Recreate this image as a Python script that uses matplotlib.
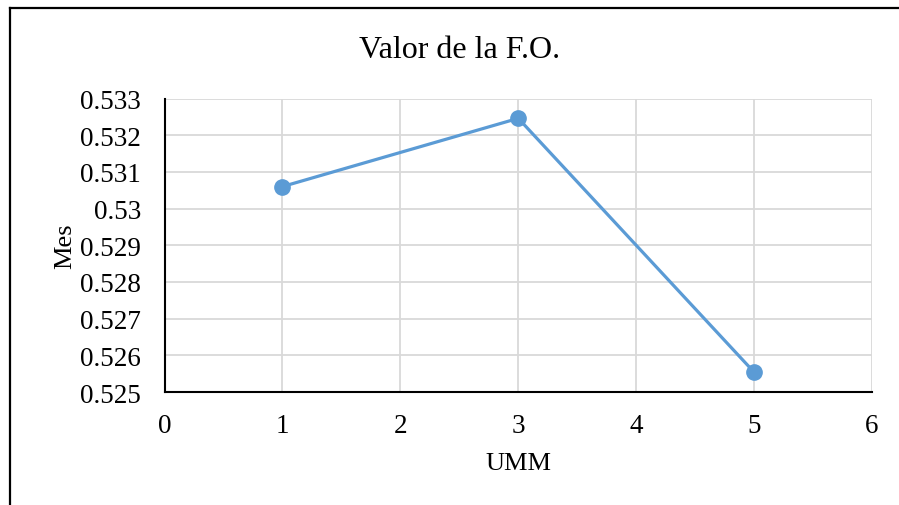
import matplotlib.pyplot as plt
from matplotlib.lines import Line2D
from matplotlib.ticker import FuncFormatter

# Datos
umm = [1, 3, 5]
valor_fo = [0.53060, 0.53246, 0.52554]
x_ticks = [0, 1, 2, 3, 4, 5, 6]
y_ticks = [0.525, 0.526, 0.527, 0.528, 0.529, 0.530, 0.531, 0.532, 0.533]

plt.rcParams['font.family'] = ['Liberation Serif', 'DejaVu Serif']

fig = plt.figure(figsize=(8.99, 5.06), dpi=100)
ax = fig.add_axes([0.183, 0.2233, 0.787, 0.580])

ax.plot(umm, valor_fo, color='#5b9bd5', linewidth=2.3, marker='o',
        markersize=11, markerfacecolor='#5b9bd5', markeredgecolor='#5b9bd5',
        zorder=3, clip_on=False)

ax.set_xlim(0, 6)
ax.set_ylim(0.525, 0.533)
ax.set_xticks(x_ticks)
ax.set_yticks(y_ticks)
ax.yaxis.set_major_formatter(FuncFormatter(lambda v, p: f"{v:.3f}".rstrip('0')))

# Cuadrícula gris y ejes
ax.grid(True, color='#d9d9d9', linewidth=1.3)
ax.set_axisbelow(True)
for s in ['top', 'right']:
    ax.spines[s].set_visible(False)
for s in ['left', 'bottom']:
    ax.spines[s].set_color('black')
    ax.spines[s].set_linewidth(1.5)
    ax.spines[s].set_zorder(4)
ax.tick_params(axis='both', length=0, labelsize=19.5)
ax.tick_params(axis='y', pad=17)
ax.tick_params(axis='x', pad=15)

ax.set_xlabel("UMM", fontsize=19, labelpad=10)
ax.set_ylabel("Mes", fontsize=19, labelpad=3)
fig.text(0.511, 1 - 50 / 506, "Valor de la F.O.", fontsize=23, ha='center', va='center')

# Marco exterior (borde superior e izquierdo)
fig.add_artist(Line2D([10 / 899, 1], [1 - 9 / 506, 1 - 9 / 506], color='black', linewidth=1.6, transform=fig.transFigure))
fig.add_artist(Line2D([10 / 899, 10 / 899], [0, 1 - 9 / 506], color='black', linewidth=1.6, transform=fig.transFigure))

fig.savefig("out.png", dpi=100)
